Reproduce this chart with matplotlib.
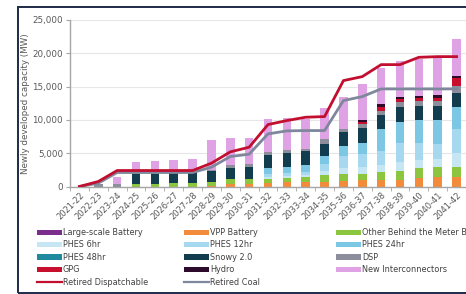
import matplotlib
matplotlib.use("Agg")
import matplotlib.pyplot as plt
from matplotlib.patches import Rectangle, Patch
from matplotlib.lines import Line2D
import numpy as np

years = ["2021-22", "2022-23", "2023-24", "2024-25", "2025-26", "2026-27", "2027-28",
         "2028-29", "2029-30", "2030-31", "2031-32", "2032-33", "2033-34", "2034-35",
         "2035-36", "2036-37", "2037-38", "2038-39", "2039-40", "2040-41", "2041-42"]

large_battery = [0] * 21
vpp_battery = [0, 0, 0, 0, 0, 0, 0, 100, 400, 450, 550, 650, 700, 700, 850, 950, 1000, 1000, 1350, 1450, 1500]
other_btm = [0, 0, 0, 400, 450, 550, 600, 550, 750, 750, 600, 650, 750, 1000, 1000, 1000, 1250, 1400, 1400, 1450, 1500]
phes_6hr = [0, 0, 0, 0, 0, 0, 0, 0, 0, 0, 250, 300, 300, 600, 900, 1000, 1050, 1350, 1300, 1200, 2000]
phes_12hr = [0, 0, 0, 0, 0, 0, 0, 0, 0, 0, 450, 450, 450, 1150, 1800, 2000, 2100, 2750, 2550, 2300, 3600]
phes_24hr = [0, 0, 0, 0, 0, 0, 0, 0, 0, 0, 1000, 950, 1000, 1100, 1500, 1600, 3200, 3250, 3400, 3600, 3400]
phes_48hr = [0] * 21
snowy = [0, 0, 0, 1450, 1450, 1600, 1600, 1700, 1700, 1800, 1900, 2050, 2150, 1900, 2150, 2300, 2150, 2250, 2100, 2100, 2000]
dsp = [0, 350, 450, 200, 250, 300, 350, 150, 350, 350, 500, 400, 350, 650, 500, 500, 650, 700, 700, 700, 1100]
gpg = [0, 0, 0, 0, 0, 0, 0, 0, 0, 0, 0, 0, 0, 0, 0, 350, 600, 450, 500, 550, 1150]
hydro = [0, 0, 0, 0, 0, 0, 0, 0, 0, 0, 0, 0, 0, 0, 0, 300, 350, 350, 350, 350, 350]
interconnectors = [0, 0, 1000, 1650, 1700, 1550, 1650, 4450, 4150, 3950, 4900, 4800, 4400, 4650, 4750, 5450, 5500, 5400, 5450, 5700, 5500]

retired_dispatchable = [0, 750, 2400, 2400, 2400, 2400, 2400, 3500, 5200, 5900, 9300, 9900, 10400, 10500,
                        15900, 16500, 18300, 18300, 19400, 19500, 19500]
retired_coal = [0, 500, 2100, 2100, 2100, 2100, 2100, 2900, 4500, 4850, 7900, 8350, 8400, 8400,
                12900, 13500, 14650, 14650, 14650, 14650, 14650]

series = [
    ("Large-scale Battery", large_battery, "#7B2D8E"),
    ("VPP Battery", vpp_battery, "#F28B3C"),
    ("Other Behind the Meter Battery", other_btm, "#8CC63F"),
    ("PHES 6hr", phes_6hr, "#C6E6F4"),
    ("PHES 12hr", phes_12hr, "#A6D9EF"),
    ("PHES 24hr", phes_24hr, "#7CC7E4"),
    ("PHES 48hr", phes_48hr, "#1F8A9E"),
    ("Snowy 2.0", snowy, "#123D4E"),
    ("DSP", dsp, "#8C8E9B"),
    ("GPG", gpg, "#C8102E"),
    ("Hydro", hydro, "#2E0A2C"),
    ("New Interconnectors", interconnectors, "#DFA3E5"),
]

fig = plt.figure(figsize=(4.66, 2.94), dpi=100)
ax = fig.add_axes([70 / 466, 107.5 / 294, 1 - 70 / 466, (274 - 107.5) / 294])

x = np.arange(len(years))
bottom = np.zeros(len(years))
for name, vals, col in series:
    v = np.array(vals, dtype=float)
    ax.bar(x, v, width=0.45, bottom=bottom, color=col, linewidth=0, zorder=2)
    bottom += v

ax.plot(x, retired_coal, color="#7E879C", lw=2.0, zorder=3)
ax.plot(x, retired_dispatchable, color="#C20F30", lw=2.0, zorder=4)

ax.set_xlim(-0.5, 20.5)
ax.set_ylim(0, 25000)
ax.set_yticks(np.arange(0, 25001, 5000))
ax.set_yticklabels([f"{v:,}" for v in range(0, 25001, 5000)])
ax.yaxis.grid(True, color="#E6E6E6", lw=0.8, zorder=0)
ax.set_axisbelow(True)
for s in ["top", "right"]:
    ax.spines[s].set_visible(False)
for s in ["left", "bottom"]:
    ax.spines[s].set_color("#A6A6A6")
    ax.spines[s].set_linewidth(1.0)
ax.tick_params(axis="y", length=3, color="#A6A6A6", labelsize=6.3, labelcolor="#595959", pad=2)
ax.set_xticks(x)
ax.set_xticklabels(years, rotation=45, ha="right", rotation_mode="anchor")
ax.tick_params(axis="x", which="major", length=0, labelsize=6.0, labelcolor="#595959", pad=3)
ax.set_xticks(np.arange(-0.5, 20.6, 1), minor=True)
ax.tick_params(axis="x", which="minor", length=3, color="#A6A6A6")
ax.set_ylabel("Newly developed capacity (MW)", fontsize=6.3, color="#595959", labelpad=2)

# Legend in three columns
cols = [
    [0, 3, 6, 9, "disp"],
    [1, 4, 7, 10, "coal"],
    [2, 5, 8, 11],
]
col_x = [37 / 466, 184 / 466, 336 / 466]
for ci, items in enumerate(cols):
    handles = []
    for it in items:
        if it == "disp":
            handles.append(Line2D([], [], color="#C20F30", lw=1.6, label="Retired Dispatchable"))
        elif it == "coal":
            handles.append(Line2D([], [], color="#7E879C", lw=1.6, label="Retired Coal"))
        else:
            name, _, col = series[it]
            handles.append(Patch(facecolor=col, edgecolor="none", label=name))
    leg = fig.legend(handles=handles, loc="upper left", bbox_to_anchor=(col_x[ci], 1 - 228 / 294),
                     frameon=False, fontsize=5.9, handlelength=3.0, handleheight=0.6,
                     handletextpad=0.15, labelspacing=0.42, borderaxespad=0, borderpad=0)
    for t in leg.get_texts():
        t.set_color("#404040")

fig.add_artist(Rectangle((18 / 466, 1.5 / 294), 1.2, (292.5 - 7) / 294,
                         transform=fig.transFigure, fill=False,
                         edgecolor="#1E2A4A", lw=1.4, zorder=10))

fig.savefig("out.png", dpi=100)
